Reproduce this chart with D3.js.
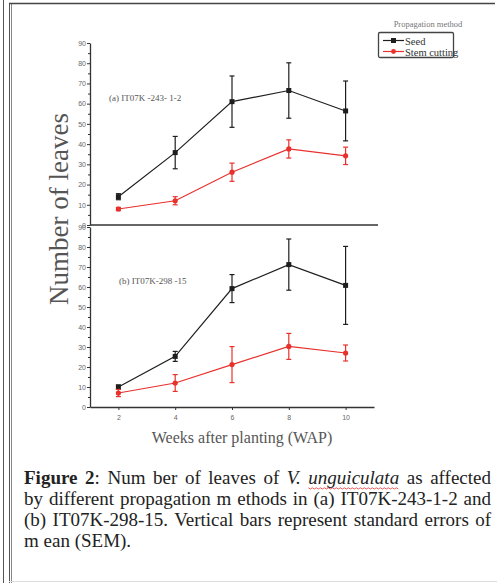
<!DOCTYPE html>
<html>
<head>
<meta charset="utf-8">
<script src="https://cdn.jsdelivr.net/npm/d3@7"></script>
<style>
  body { margin: 0; background: #fff; }
  svg { display: block; }
  .tick text { font-family: "Liberation Sans", Arial, sans-serif; font-size: 7px; fill: #666; }
  .tick line, .domain { stroke: #333; }
  .caption text { font-family: "Liberation Serif", "Times New Roman", serif; font-size: 19px; fill: #222; }
</style>
</head>
<body>
<div id="chart"></div>
<script>
// données
const weeks = [2, 4, 6, 8, 10];
const yTicks = [0, 10, 20, 30, 40, 50, 60, 70, 80, 90];

// (a) IT07K-243-1-2
const seedA = [14, 35.8, 61, 66.5, 56.4];
const seedAErr = [1.5, 8, 12.7, 13.7, 14.8];
const stemA = [7.9, 12, 26.1, 37.6, 34.2];
const stemAErr = [0.8, 2, 4.5, 4.5, 4.3];

// (b) IT07K-298-15
const seedB = [10, 25.3, 59.2, 71.2, 60.8];
const seedBErr = [1, 2.5, 7, 12.8, 19.5];
const stemB = [7, 12, 21.2, 30.3, 27];
const stemBErr = [1.8, 4.2, 9, 6.5, 4];

const width = 497;
const height = 583;
const black = "#1e1e1e";
const red = "#e8312c";
const serif = '"Liberation Serif", "Times New Roman", serif';

const svg = d3
  .select("#chart")
  .append("svg")
  .attr("width", width)
  .attr("height", height);

// cadre de la page
svg.append("line").attr("x1", 3.5).attr("x2", 3.5).attr("y1", 0).attr("y2", height)
  .attr("stroke", "#555").attr("stroke-width", 1);
svg.append("line").attr("x1", 9.5).attr("x2", 9.5).attr("y1", 3).attr("y2", height)
  .attr("stroke", "#555").attr("stroke-width", 1);
svg.append("line").attr("x1", 11.5).attr("x2", 11.5).attr("y1", 3).attr("y2", height)
  .attr("stroke", "#888").attr("stroke-width", 1);
svg.append("line").attr("x1", 9).attr("x2", 495).attr("y1", 3.5).attr("y2", 3.5)
  .attr("stroke", "#444").attr("stroke-width", 1.5);
svg.append("line").attr("x1", 9).attr("x2", 497).attr("y1", 581.5).attr("y2", 581.5)
  .attr("stroke", "#ddd").attr("stroke-width", 1);

// Escalas
const x = d3.scaleLinear().domain([1, 11]).range([90, 374]);
const yA = d3.scaleLinear().domain([0, 90]).range([225, 43]);
const yB = d3.scaleLinear().domain([0, 90]).range([407, 227]);

const minorTicks = d3.range(5, 90, 10);

function drawYAxis(y) {
  svg.append("g")
    .attr("transform", "translate(90,0)")
    .call(d3.axisLeft(y).tickValues(yTicks).tickSize(3).tickSizeOuter(0).tickPadding(1))
    .call((g) => g.select(".domain").attr("stroke-width", 1.3));
  svg.append("g")
    .attr("transform", "translate(91,0)")
    .call(d3.axisLeft(y).tickValues(minorTicks).tickSize(3).tickFormat(""))
    .call((g) => g.select(".domain").remove());
}
drawYAxis(yA);
drawYAxis(yB);

// linha divisória entre os painéis
svg.append("line")
  .attr("x1", x(1)).attr("x2", 378)
  .attr("y1", yA(0)).attr("y2", yA(0))
  .attr("stroke", "#333").attr("stroke-width", 1.3);

// Eixo X
svg.append("g")
  .attr("transform", `translate(0,${yB(0)})`)
  .call(d3.axisBottom(x).tickValues(weeks).tickSize(3).tickSizeOuter(0).tickPadding(5))
  .call((g) => g.select(".domain").attr("stroke-width", 1.3));

function drawSeries(y, values, errs, color, shape) {
  const pts = weeks.map((w, i) => ({ w, v: values[i], e: errs[i] }));
  const line = d3.line().x((d) => x(d.w)).y((d) => y(d.v));
  svg.append("path")
    .datum(pts)
    .attr("d", line)
    .attr("fill", "none")
    .attr("stroke", color)
    .attr("stroke-width", 1.2);

  const bars = svg.append("g").attr("stroke", color).attr("stroke-width", 1.2);
  bars.selectAll(".err")
    .data(pts)
    .enter()
    .append("line")
    .attr("x1", (d) => x(d.w)).attr("x2", (d) => x(d.w))
    .attr("y1", (d) => y(d.v + d.e)).attr("y2", (d) => y(d.v - d.e));
  [1, -1].forEach((s) => {
    bars.selectAll(".cap" + s)
      .data(pts)
      .enter()
      .append("line")
      .attr("x1", (d) => x(d.w) - 2.5).attr("x2", (d) => x(d.w) + 2.5)
      .attr("y1", (d) => y(d.v + s * d.e)).attr("y2", (d) => y(d.v + s * d.e));
  });

  if (shape === "square") {
    svg.append("g").selectAll("rect")
      .data(pts)
      .enter()
      .append("rect")
      .attr("x", (d) => x(d.w) - 2.5)
      .attr("y", (d) => y(d.v) - 2.5)
      .attr("width", 5)
      .attr("height", 5)
      .attr("fill", color);
  } else {
    svg.append("g").selectAll("circle")
      .data(pts)
      .enter()
      .append("circle")
      .attr("cx", (d) => x(d.w))
      .attr("cy", (d) => y(d.v))
      .attr("r", 2.6)
      .attr("fill", color);
  }
}

drawSeries(yA, seedA, seedAErr, black, "square");
drawSeries(yA, stemA, stemAErr, red, "circle");
drawSeries(yB, seedB, seedBErr, black, "square");
drawSeries(yB, stemB, stemBErr, red, "circle");

// rótulos dos painéis
svg.append("text")
  .attr("x", 109).attr("y", 101)
  .attr("font-family", serif).attr("font-size", 9).attr("fill", "#555")
  .text("(a) IT07K -243- 1-2");
svg.append("text")
  .attr("x", 119).attr("y", 284)
  .attr("font-family", serif).attr("font-size", 9).attr("fill", "#555")
  .text("(b) IT07K-298 -15");

// títulos dos eixos
svg.append("text")
  .attr("transform", "translate(68,209) rotate(-90)")
  .attr("text-anchor", "middle")
  .attr("font-family", serif).attr("font-size", 27).attr("fill", "#555")
  .text("Number of leaves");
svg.append("text")
  .attr("x", 242).attr("y", 443)
  .attr("text-anchor", "middle")
  .attr("font-family", serif).attr("font-size", 16).attr("fill", "#555")
  .text("Weeks after planting (WAP)");

// Legenda
svg.append("text")
  .attr("x", 428).attr("y", 27)
  .attr("text-anchor", "middle")
  .attr("font-family", serif).attr("font-size", 8.5).attr("fill", "#777")
  .text("Propagation method");
svg.append("rect")
  .attr("x", 378.5).attr("y", 32.5).attr("width", 75).attr("height", 25)
  .attr("rx", 1.5)
  .attr("fill", "none").attr("stroke", "#444").attr("stroke-width", 1.3);
const legendItems = [
  { label: "Seed", color: black, y: 40.5, shape: "square" },
  { label: "Stem cutting", color: red, y: 51.5, shape: "circle" },
];
legendItems.forEach((d) => {
  svg.append("line")
    .attr("x1", 383).attr("x2", 404).attr("y1", d.y).attr("y2", d.y)
    .attr("stroke", d.color).attr("stroke-width", 1.2);
  if (d.shape === "square") {
    svg.append("rect").attr("x", 391).attr("y", d.y - 2.5).attr("width", 5).attr("height", 5)
      .attr("fill", d.color);
  } else {
    svg.append("circle").attr("cx", 393.5).attr("cy", d.y).attr("r", 2.4).attr("fill", d.color);
  }
  svg.append("text")
    .attr("x", 405).attr("y", d.y + 4)
    .attr("font-family", serif).attr("font-size", 10.5).attr("fill", "#333")
    .text(d.label);
});

// Legenda da figura (justificada pelo espaço entre palavras)
const caption = svg.append("g").attr("class", "caption");
const lineWidth = 467;

function justify(t) {
  const txt = t.text();
  const spaces = (txt.match(/ /g) || []).length;
  const natural = t.node().getComputedTextLength();
  if (spaces > 0) {
    t.attr("word-spacing", ((lineWidth - natural) / spaces).toFixed(2));
  }
}

const line1 = caption.append("text").attr("x", 24).attr("y", 484);
line1.append("tspan").attr("font-weight", "bold").text("Figure 2");
line1.append("tspan").text(": Num ber of leaves of ");
line1.append("tspan").attr("font-style", "italic").text("V. ");
line1.append("tspan").attr("font-style", "italic").text("unguiculata");
line1.append("tspan").text(" as affected");
justify(line1);

justify(caption.append("text").attr("x", 24).attr("y", 505)
  .text("by different propagation m ethods in (a) IT07K-243-1-2 and"));
justify(caption.append("text").attr("x", 24).attr("y", 526)
  .text("(b) IT07K-298-15. Vertical bars represent standard errors of"));
caption.append("text").attr("x", 24).attr("y", 547)
  .text("m ean (SEM).");

// sublinhado ondulado do corretor ortográfico
const full = line1.text();
const start = full.indexOf("unguiculata");
const node = line1.node();
const sx = node.getStartPositionOfChar(start).x;
const ex = node.getEndPositionOfChar(start + "unguiculata".length - 1).x;
const wave = [];
for (let px = sx; px <= ex; px += 2) {
  wave.push([px, 488 + ((Math.round((px - sx) / 2) % 2) ? 1 : -0.2)]);
}
svg.append("path")
  .attr("d", d3.line()(wave))
  .attr("fill", "none")
  .attr("stroke", "#e33")
  .attr("stroke-width", 0.8);
</script>
</body>
</html>
